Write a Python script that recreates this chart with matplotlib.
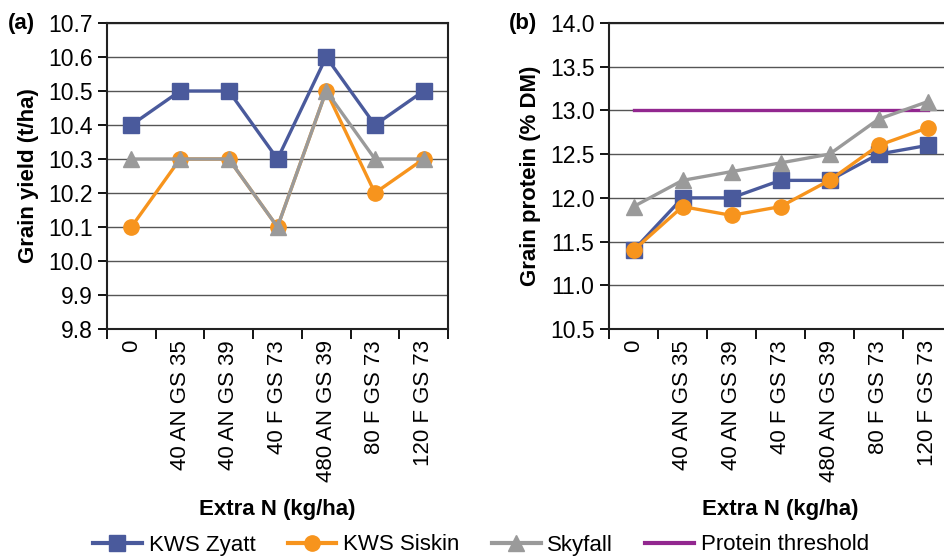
import numpy as np
import matplotlib.pyplot as plt
from matplotlib.lines import Line2D

plt.rcParams['font.family'] = ['Liberation Sans', 'DejaVu Sans']

treatments = ["0", "40 AN GS 35", "40 AN GS 39", "40 F GS 73",
              "480 AN GS 39", "80 F GS 73", "120 F GS 73"]

# (a) grain yield, t/ha
yield_zyatt = [10.4, 10.5, 10.5, 10.3, 10.6, 10.4, 10.5]
yield_siskin = [10.1, 10.3, 10.3, 10.1, 10.5, 10.2, 10.3]
yield_skyfall = [10.3, 10.3, 10.3, 10.1, 10.5, 10.3, 10.3]

# (b) grain protein, % DM
prot_zyatt = [11.4, 12.0, 12.0, 12.2, 12.2, 12.5, 12.6]
prot_siskin = [11.4, 11.9, 11.8, 11.9, 12.2, 12.6, 12.8]
prot_skyfall = [11.9, 12.2, 12.3, 12.4, 12.5, 12.9, 13.1]
protein_threshold = 13.0

c_zyatt = "#4a5a9c"
c_siskin = "#f7941d"
c_sky = "#9a9a9a"
c_thr = "#92278f"

fig = plt.figure(figsize=(9.44, 5.56), dpi=100)
ax1 = fig.add_axes([107/944, 1-329/556, 341/944, 306/556])
ax2 = fig.add_axes([609/944, 1-329/556, 343/944, 306/556])

x = np.arange(len(treatments))


def style(ax, ylo, yhi, step, ylabel):
    ax.set_xlim(-0.5, len(treatments) - 0.5)
    ax.set_ylim(ylo, yhi)
    ticks = np.round(np.arange(ylo, yhi + step / 2, step), 2)
    ax.set_yticks(ticks)
    ax.set_yticklabels([f"{t:.1f}" for t in ticks])
    ax.yaxis.grid(True, color="#555555", lw=1.0)
    ax.set_axisbelow(True)
    ax.set_xticks(np.arange(-0.5, len(treatments), 1.0))
    ax.set_xticklabels([])
    ax.set_xticks(x, minor=True)
    ax.set_xticklabels(treatments, minor=True, rotation=90, va="top")
    ax.tick_params(axis="x", which="major", direction="out", length=7, width=1.3)
    ax.tick_params(axis="x", which="minor", length=0, pad=8, labelsize=16)
    ax.tick_params(axis="y", direction="out", length=6.5, width=1.3, labelsize=16.5, pad=4)
    for s in ax.spines.values():
        s.set_linewidth(1.5)
        s.set_color("#222222")
    ax.set_ylabel(ylabel, fontsize=16, fontweight="bold", labelpad=6)
    ax.set_xlabel("Extra N (kg/ha)", fontsize=16, fontweight="bold", labelpad=12)


kw = dict(lw=2.4, clip_on=False)
ax1.plot(x, yield_zyatt, color=c_zyatt, marker="s", ms=11, **kw)
ax1.plot(x, yield_siskin, color=c_siskin, marker="o", ms=11, **kw)
ax1.plot(x, yield_skyfall, color=c_sky, marker="^", ms=11, **kw)
style(ax1, 9.8, 10.7, 0.1, "Grain yield (t/ha)")

ax2.plot(x, [protein_threshold] * len(x), color=c_thr, lw=2.4)
ax2.plot(x, prot_zyatt, color=c_zyatt, marker="s", ms=11, **kw)
ax2.plot(x, prot_siskin, color=c_siskin, marker="o", ms=11, **kw)
ax2.plot(x, prot_skyfall, color=c_sky, marker="^", ms=11, **kw)
style(ax2, 10.5, 14.0, 0.5, "Grain protein (% DM)")

fig.text(8/944, 1-24/556, "(a)", fontsize=16, fontweight="bold", va="center")
fig.text(509/944, 1-24/556, "(b)", fontsize=16, fontweight="bold", va="center")

handles = [
    Line2D([], [], color=c_zyatt, marker="s", ms=11, lw=3),
    Line2D([], [], color=c_siskin, marker="o", ms=11, lw=3),
    Line2D([], [], color=c_sky, marker="^", ms=11, lw=3),
    Line2D([], [], color=c_thr, lw=3),
]
fig.legend(handles, ["KWS Zyatt", "KWS Siskin", "Skyfall", "Protein threshold"],
           loc="center", bbox_to_anchor=(481/944, 1-545/556), ncol=4, frameon=False,
           fontsize=16, handlelength=2.2, handletextpad=0.3, columnspacing=1.45)

fig.savefig("out.png", dpi=100)
